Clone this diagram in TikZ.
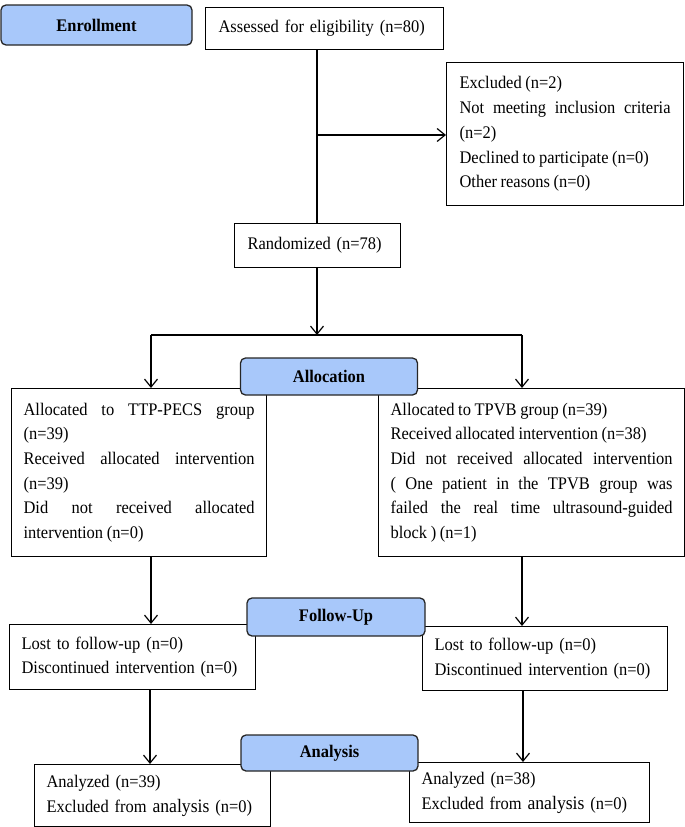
\documentclass[tikz,border=0pt]{standalone}
\usepackage{fontspec}
\setmainfont{Liberation Serif}[FakeStretch=0.93,WordSpace=0.88]
\usetikzlibrary{arrows.meta}
\definecolor{stageblue}{HTML}{A8C8FA}
\begin{document}
\begin{tikzpicture}[x=1pt,y=-1pt,
  every node/.style={font=\fontsize{17.7}{24.7}\selectfont},
  stage/.style={draw=black!85, line width=1.3pt, fill=stageblue, rounded corners=5pt,
    font=\fontsize{17.7}{20}\selectfont\bfseries, inner sep=0pt},
  tbox/.style={draw, line width=1.2pt, inner xsep=12pt, inner ysep=0pt, align=justify,
    anchor=north west,
    execute at begin node={\parindent=0pt\tolerance=9999\hyphenpenalty=10000\emergencystretch=0pt}},
  arr/.style={-{Straight Barb[length=8pt,width=13pt]}, line width=1.2pt},
  link/.style={line width=1.2pt}]
\useasboundingbox (0,0) rectangle (685,827);

% stage labels
\node[stage, minimum width=191pt, minimum height=40pt] (enr) at (96.5,25) {Enrollment};

% boxes
\node[tbox, align=left, inner xsep=13pt, text width=212pt, minimum height=42pt] (ass) at (205,7)
  {Assessed for eligibility (n=80)};
\node[tbox, inner xsep=13pt, text width=211pt, minimum height=143pt] (exc) at (446,62)
  {Excluded (n=2)\\ Not meeting inclusion criteria\linebreak (n=2)\\ Declined to participate (n=0)\\ Other reasons (n=0)};
\node[tbox, align=left, inner xsep=13pt, text width=140pt, minimum height=44pt] (rnd) at (234,223)
  {Randomized (n=78)};

\node[tbox, text width=231pt, minimum height=168pt] (lal) at (11,388)
  {Allocated to TTP-PECS group\linebreak (n=39)\\ Received allocated intervention\linebreak (n=39)\\ Did not received allocated\linebreak intervention (n=0)};
\node[tbox, text width=282pt, minimum height=168pt] (ral) at (378,388)
  {Allocated to TPVB group (n=39)\\ Received allocated intervention (n=38)\\ Did not received allocated intervention\linebreak ( One patient in the TPVB group was\linebreak failed the real time ultrasound-guided\linebreak block ) (n=1)};

\node[tbox, align=left, text width=222pt, minimum height=65pt] (lfu) at (9,624)
  {Lost to follow-up (n=0)\\ Discontinued intervention (n=0)};
\node[tbox, align=left, text width=221pt, minimum height=64pt] (rfu) at (422,626)
  {Lost to follow-up (n=0)\\ Discontinued intervention (n=0)};

\node[tbox, align=left, text width=212pt, minimum height=62pt] (lan) at (34,764)
  {Analyzed (n=39)\\ Excluded from {\fontsize{19}{24.7}\selectfont analysis} (n=0)};
\node[tbox, align=left, text width=216pt, minimum height=60pt] (ran) at (409,762)
  {Analyzed (n=38)\\ Excluded from {\fontsize{19}{24.7}\selectfont analysis} (n=0)};

% stage labels on top
\node[stage, minimum width=177pt, minimum height=37pt] (alc) at (329,376.5) {Allocation};
\node[stage, minimum width=178pt, minimum height=38pt] (fup) at (336,617) {Follow-Up};
\node[stage, minimum width=177pt, minimum height=36pt] (ana) at (329.5,753) {Analysis};

% connectors
\coordinate (xm) at (317,0);
\coordinate (xl) at (151,0);
\coordinate (xr) at (522,0);
\coordinate (xlb) at (150,0);
\coordinate (xrb) at (523,0);
\coordinate (exj) at (317,135);
\coordinate (split) at (317,335);

\draw[link] (ass.south -| xm) -- (rnd.north -| xm);
\draw[arr] (exj) -- (exj -| exc.west);
\draw[arr] (rnd.south -| xm) -- (split);
\draw[link] (split -| xl) -- (split -| xr);
\draw[arr] (split -| xl) -- (lal.north -| xl);
\draw[arr] (split -| xr) -- (ral.north -| xr);
\draw[arr] (lal.south -| xl) -- (lfu.north -| xl);
\draw[arr] (ral.south -| xr) -- (rfu.north -| xr);
\draw[arr] (lfu.south -| xlb) -- (lan.north -| xlb);
\draw[arr] (rfu.south -| xrb) -- (ran.north -| xrb);
\end{tikzpicture}
\end{document}
